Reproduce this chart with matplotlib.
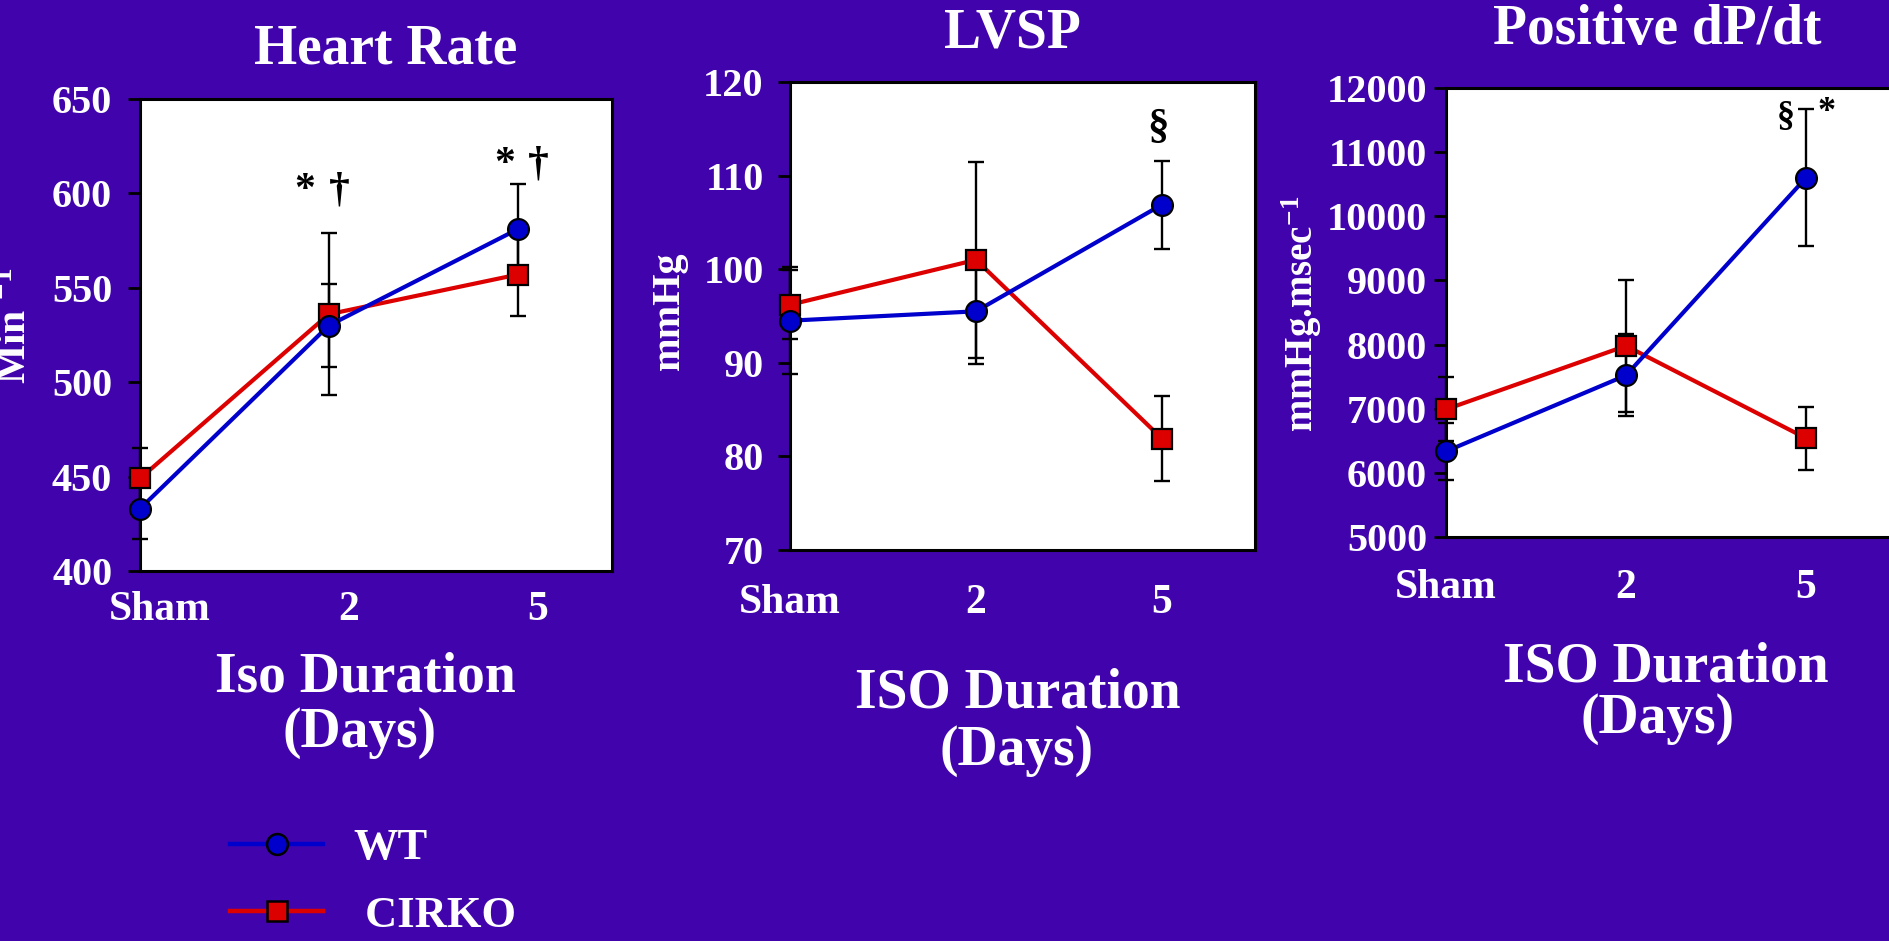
import matplotlib
matplotlib.use("Agg")
import matplotlib.pyplot as plt
from matplotlib.transforms import offset_copy

# 3 panels: heart rate, LVSP, +dP/dt vs ISO duration (WT vs CIRKO)
x_pos = [0, 1, 2]
x_labels = ["Sham", "2", "5"]

hr_wt = [433, 530, 581]
hr_wt_err = [16, 22, 24]
hr_cirko = [449, 536, 557]
hr_cirko_err = [16, 43, 22]

lvsp_wt = [94.5, 95.5, 106.9]
lvsp_wt_err = [5.7, 5.6, 4.7]
lvsp_cirko = [96.2, 101.0, 81.9]
lvsp_cirko_err = [3.7, 10.5, 4.5]

dpdt_wt = [6335, 7520, 10600]
dpdt_wt_err = [450, 640, 1070]
dpdt_cirko = [6990, 7980, 6540]
dpdt_cirko_err = [500, 1030, 490]

BG = "#4104AC"
BLUE = "#0000CC"
RED = "#DD0000"
FONT = "Liberation Serif"

plt.rcParams["font.family"] = [FONT, "DejaVu Serif"]
plt.rcParams["font.weight"] = "bold"
plt.rcParams["mathtext.fontset"] = "custom"
plt.rcParams["mathtext.rm"] = "Liberation Serif:bold"
plt.rcParams["mathtext.it"] = "Liberation Serif:bold"
plt.rcParams["mathtext.bf"] = "Liberation Serif:bold"

W, H = 1890, 941
fig = plt.figure(figsize=(W / 100, H / 100), dpi=100, facecolor=BG)


def fx(px):
    return px / W


def fy(py):
    return 1 - py / H


def make_axes(left, top, right, bottom):
    return fig.add_axes([fx(left), fy(bottom), (right - left) / W, (bottom - top) / H])


def draw_panel(ax, wt, wt_err, ck, ck_err, ylim, yticks, ypad, xlab_drop, xlab_dx):
    ax.set_facecolor("white")
    ax.errorbar(x_pos, ck, yerr=ck_err, fmt="none", ecolor="black", elinewidth=1.7,
                capsize=6, capthick=1.7, zorder=2, clip_on=False)
    ax.errorbar(x_pos, wt, yerr=wt_err, fmt="none", ecolor="black", elinewidth=1.7,
                capsize=6, capthick=1.7, zorder=2, clip_on=False)
    ax.plot(x_pos, ck, color=RED, lw=3, marker="s", ms=14.5, mfc=RED, mec="black",
            mew=1.6, zorder=3, clip_on=False)
    ax.plot(x_pos, wt, color=BLUE, lw=3, marker="o", ms=15, mfc=BLUE, mec="black",
            mew=1.6, zorder=4, clip_on=False)
    ax.set_xlim(0, 2.5)
    ax.set_ylim(*ylim)
    ax.set_yticks(yticks)
    ax.set_yticklabels([str(t) for t in yticks])
    ax.tick_params(axis="y", direction="out", length=9, width=2, pad=ypad,
                   labelsize=29, labelcolor="white")
    ax.set_xticks([])
    for s in ax.spines.values():
        s.set_linewidth(2.2)
        s.set_color("black")
    tr = offset_copy(ax.get_xaxis_transform(), fig=fig, x=xlab_dx, y=-xlab_drop, units="dots")
    for xi, lab in zip(x_pos, x_labels):
        ax.text(xi, 0, lab, transform=tr, ha="center", va="baseline",
                fontsize=30, color="white", fontweight="bold")


ax1 = make_axes(140, 99, 612, 571)
draw_panel(ax1, hr_wt, hr_wt_err, hr_cirko, hr_cirko_err, (400, 650),
           list(range(400, 651, 50)), 11, 49, 20)
ax1.text(0.874, 596, "*", ha="center", va="baseline", fontsize=30, color="black")
ax1.text(1.054, 596, "\u2020", ha="center", va="baseline", fontsize=30, color="black")
ax1.text(1.933, 610, "*", ha="center", va="baseline", fontsize=30, color="black")
ax1.text(2.108, 610, "\u2020", ha="center", va="baseline", fontsize=30, color="black")

ax2 = make_axes(790, 82, 1255, 550)
draw_panel(ax2, lvsp_wt, lvsp_wt_err, lvsp_cirko, lvsp_cirko_err, (70, 120),
           list(range(70, 121, 10)), 10, 63, 0)
ax2.text(1.978, 114.0, "\u00a7", ha="center", va="baseline", fontsize=31, color="black")

ax3 = make_axes(1446, 88, 1896, 537)
draw_panel(ax3, dpdt_wt, dpdt_wt_err, dpdt_cirko, dpdt_cirko_err, (5000, 12000),
           list(range(5000, 12001, 1000)), 4.5, 61, 0)
ax3.text(1.889, 11408, "\u00a7", ha="center", va="baseline", fontsize=26, color="black")
ax3.text(2.117, 11485, "*", ha="center", va="baseline", fontsize=26, color="black")

# titles
for cx, base, t in [(386, 63, "Heart Rate"), (1012, 47, "LVSP"), (1657, 44, "Positive dP/dt")]:
    fig.text(fx(cx), fy(base), t, ha="center", va="baseline", fontsize=40, color="white")

# x axis titles
for cx1, b1, t1, cx2, b2 in [(365, 691, "Iso Duration", 360, 747),
                             (1018, 708, "ISO Duration", 1017, 765),
                             (1666, 682, "ISO Duration", 1658, 733)]:
    fig.text(fx(cx1), fy(b1), t1, ha="center", va="baseline", fontsize=40, color="white")
    fig.text(fx(cx2), fy(b2), "(Days)", ha="center", va="baseline", fontsize=40, color="white")

# y axis titles
for bx, cy, t, fs in [(26, 326, "Min $^{-1}$", 30), (679, 311, "mmHg", 29),
                      (1313, 314, "mmHg.msec$^{-1}$", 28)]:
    fig.text(fx(bx), fy(cy), t, rotation=90, rotation_mode="anchor", ha="center",
             va="baseline", fontsize=fs, color="white")

# legend
h_wt, = ax1.plot([], [], color=BLUE, lw=3.2, marker="o", ms=15, mfc=BLUE, mec="black", mew=1.8)
h_ck, = ax1.plot([], [], color=RED, lw=3.2, marker="s", ms=14.5, mfc=RED, mec="black", mew=1.8)
leg = fig.legend([h_wt, h_ck], ["WT", " CIRKO"], loc="upper left",
                 bbox_to_anchor=(fx(230), fy(828)), frameon=False, fontsize=32,
                 handlelength=2.1, handletextpad=0.68, labelspacing=0.62,
                 borderpad=0, borderaxespad=0)
for t in leg.get_texts():
    t.set_color("white")

fig.savefig("out.png", dpi=100, facecolor=BG)
